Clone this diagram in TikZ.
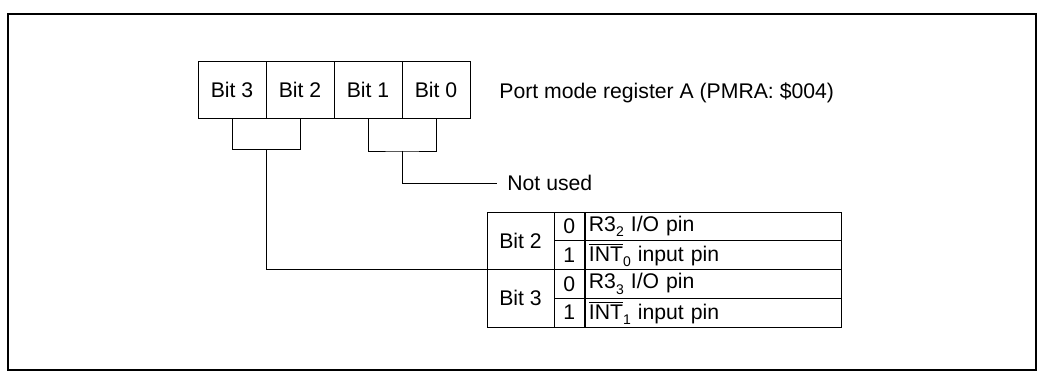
\documentclass[tikz,border=0pt]{standalone}
\usepackage{fontspec}
\setmainfont{Liberation Sans}
\usetikzlibrary{positioning}

\newcommand{\lowsub}[1]{\raisebox{-0.45ex}{\scriptsize #1}}
\newcommand{\barred}[1]{$\overline{\mbox{#1}}$}

\begin{document}
\begin{tikzpicture}[x=0.5pt,y=-0.5pt,
  every node/.style={font=\fontsize{10.6}{12}\selectfont},
  bitcell/.style={draw,minimum width=34pt,minimum height=28.5pt,inner sep=0pt},
  namecell/.style={draw,minimum width=33.5pt,minimum height=28.75pt,inner sep=0pt},
  digitcell/.style={draw,minimum width=15.25pt,minimum height=14.375pt,inner sep=0pt},
  desccell/.style={draw,anchor=west,text width=124.25pt,inner xsep=2pt,inner ysep=0pt,
    minimum height=14.375pt,align=left},
  plain/.style={anchor=west,inner ysep=0pt}]

\useasboundingbox (0,0) rectangle (1040,379);
\draw[line width=0.6pt] (8,14) rectangle (1036,370);

% register bits
\node[bitcell] (b3) at (232,90) {Bit 3};
\node[bitcell] (b2) at (300,90) {Bit 2};
\node[bitcell] (b1) at (368,90) {Bit 1};
\node[bitcell] (b0) at (436,90) {Bit 0};
\node[plain,inner xsep=0pt] (pmra) at (499,93) {Port mode register A (PMRA: \$004)};

% table
\node[namecell] (t2) at (520.5,240.75) {Bit 2};
\node[namecell] (t3) at (520.5,298.25) {Bit 3};
\node[digitcell] (d20) at (569.25,226.375) {0};
\node[digitcell] (d21) at (569.25,255.125) {1};
\node[digitcell] (d30) at (569.25,283.875) {0};
\node[digitcell] (d31) at (569.25,312.625) {1};
\node[desccell] (r20) at (584.5,226.375) {R3\lowsub{2} I/O pin};
\node[desccell] (r21) at (584.5,255.125) {\barred{INT}\lowsub{0} input pin};
\node[desccell] (r30) at (584.5,283.875) {R3\lowsub{3} I/O pin};
\node[desccell] (r31) at (584.5,312.625) {\barred{INT}\lowsub{1} input pin};

\node[plain,inner xsep=5pt] (nu) at (497,183) {Not used};

% brackets
\coordinate (j32) at (266,149.5);
\coordinate (j10) at (402,151);
\draw (b3.south) |- (j32) -| (b2.south);
\draw (b1.south) |- (j10) -| (b0.south);
\draw (j32) |- (t2.south west);
\draw (j10) |- (nu.west);

\end{tikzpicture}
\end{document}
